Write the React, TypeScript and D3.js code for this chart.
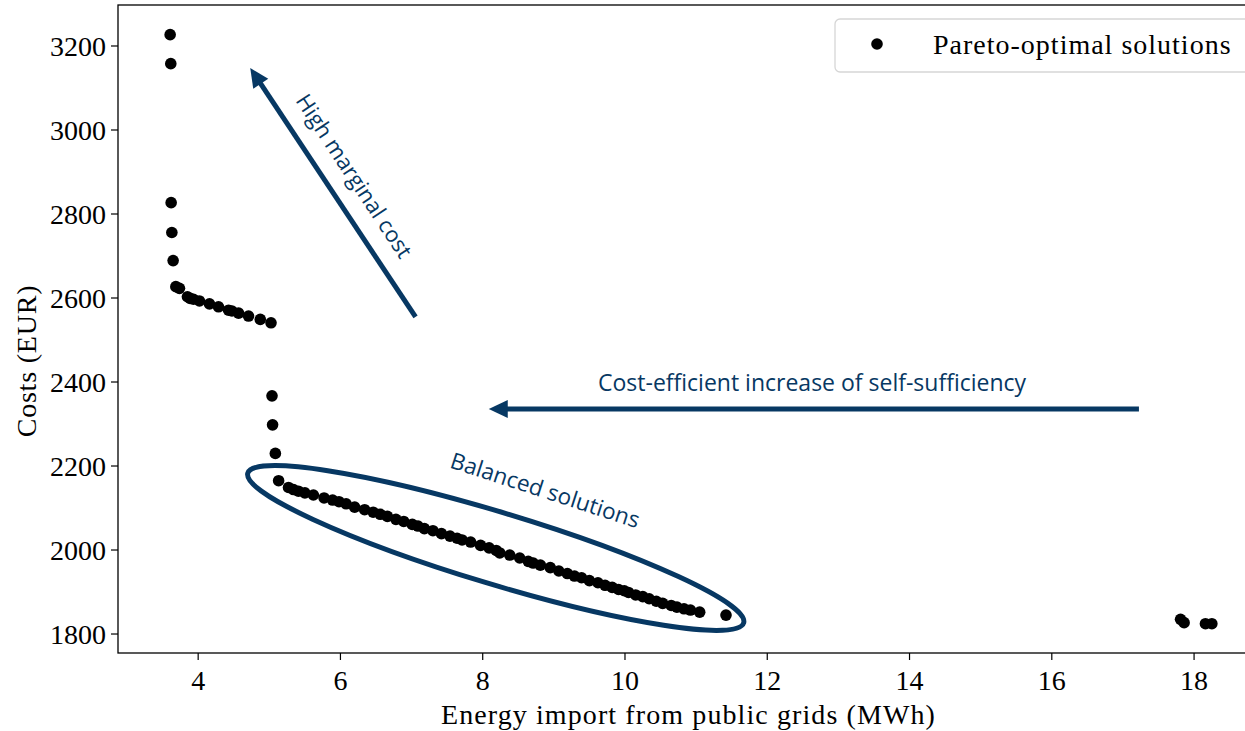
import React from "react"
import { scaleLinear, line } from "d3"

// Pareto front
const energyImport = [
  3.606, 3.615, 3.62, 3.63, 3.648, 3.686, 3.737, 3.849, 3.887, 3.934, 4.018, 4.159, 4.286, 4.427, 4.475, 4.568, 4.708, 4.873, 5.024,
  5.038, 5.046, 5.085, 5.131,
  5.27, 5.34, 5.41, 5.5, 5.62, 5.77, 5.89, 5.98, 6.08, 6.2, 6.34, 6.46, 6.56, 6.66, 6.78, 6.89, 7.01, 7.09, 7.18, 7.3, 7.42, 7.54,
  7.64, 7.71, 7.83, 7.97, 8.09, 8.19, 8.24, 8.38, 8.52, 8.64, 8.71, 8.81, 8.95, 9.07, 9.19, 9.29, 9.39, 9.5, 9.62, 9.72,
  9.82, 9.91, 9.99, 10.05, 10.15, 10.25, 10.34, 10.44, 10.53, 10.65, 10.73, 10.83, 10.92, 11.05, 11.42,
  17.81, 17.86, 18.16, 18.25,
]
const costs = [
  3227, 3158, 2827, 2756, 2689, 2627, 2623, 2603, 2599, 2597, 2593, 2586, 2579, 2571, 2569, 2564, 2557, 2549, 2541,
  2367, 2298, 2230, 2165,
  2149, 2144, 2140, 2136, 2131, 2124, 2119, 2115, 2110, 2102, 2096, 2090, 2085, 2080, 2073, 2068, 2061, 2057, 2051, 2046, 2039, 2033,
  2028, 2024, 2019, 2011, 2005, 1999, 1993, 1988, 1981, 1973, 1969, 1964, 1958, 1950, 1944, 1938, 1934, 1927, 1922, 1916,
  1911, 1906, 1903, 1899, 1893, 1889, 1884, 1878, 1873, 1868, 1864, 1860, 1857, 1852, 1845,
  1835, 1827, 1824.5, 1824.5,
]
const xTicks = [4, 6, 8, 10, 12, 14, 16, 18]
const yTicks = [1800, 2000, 2200, 2400, 2600, 2800, 3000, 3200]

const W = 1245
const H = 731
const margin = { top: 5, right: -1, bottom: 78, left: 118 }
const navy = "#073863"
const serif = "'Liberation Serif', 'DejaVu Serif', serif"
const sans = "'Open Sans', 'Noto Sans', sans-serif"

export default function App() {
  const x = scaleLinear([2.873, 18.73], [margin.left, W - margin.right])
  const y = scaleLinear([1754.8, 3297.6], [H - margin.bottom, margin.top])
  const left = margin.left
  const right = W - margin.right
  const top = margin.top
  const bottom = H - margin.bottom

  // arrow helper in data space
  const arrow = (x0: number, y0: number, x1: number, y1: number) => {
    const ax = x(x0), ay = y(y0), bx = x(x1), by = y(y1)
    const dx = bx - ax, dy = by - ay
    const len = Math.hypot(dx, dy)
    const ux = dx / len, uy = dy / len
    const headLen = 19, headW = 9
    const baseX = bx - ux * headLen, baseY = by - uy * headLen
    const pts: [number, number][] = [
      [bx, by],
      [baseX - uy * headW, baseY + ux * headW],
      [baseX + uy * headW, baseY - ux * headW],
    ]
    return (
      <g>
        <path d={line()([[ax, ay], [baseX + ux * 2, baseY + uy * 2]]) || ""} stroke={navy} strokeWidth={5} fill="none" />
        <polygon points={pts.map(p => p.join(",")).join(" ")} fill={navy} />
      </g>
    )
  }

  return (
    <div style={{ position: "absolute", left: 0, top: 0 }}>
      <svg width={W} height={H} style={{ display: "block", background: "#fff" }}>
        {/* annotations */}
        {arrow(7.056, 2554.8, 4.732, 3147.6)}
        {arrow(17.225, 2335.7, 8.085, 2335.7)}
        <text
          transform={`translate(${x(6.17)},${y(2888)}) rotate(56.5)`}
          fontFamily={sans} fontSize={22} fill={navy} textAnchor="middle" dominantBaseline="middle">
          High marginal cost
        </text>
        <text x={x(12.63)} y={y(2393)} fontFamily={sans} fontSize={23} fill={navy} textAnchor="middle" dominantBaseline="middle">
          Cost-efficient increase of self-sufficiency
        </text>
        <text
          transform={`translate(${x(8.87)},${y(2138)}) rotate(18)`}
          fontFamily={sans} fontSize={22.5} fill={navy} textAnchor="middle" dominantBaseline="middle">
          Balanced solutions
        </text>
        <ellipse
          transform={`translate(${x(8.183)},${y(2004.8)}) rotate(16.8)`}
          rx={259} ry={36} fill="none" stroke={navy} strokeWidth={5} />

        {/* points */}
        {energyImport.map((v, i) => (
          <circle key={i} cx={x(v)} cy={y(costs[i])} r={5.8} fill="#000" />
        ))}

        {/* frame */}
        <rect x={left} y={top} width={right - left} height={bottom - top} fill="none" stroke="#000" strokeWidth={1.3} />

        {/* x axis */}
        {xTicks.map(t => (
          <g key={t} transform={`translate(${x(t)},${bottom})`}>
            <line y2={7} stroke="#000" strokeWidth={1.2} />
            <text y={37} textAnchor="middle" fontFamily={serif} fontSize={28}>{t}</text>
          </g>
        ))}
        <text x={(left + 1245) / 2 + 7} y={724} textAnchor="middle" fontFamily={serif} fontSize={28} letterSpacing={1.1}>
          Energy import from public grids (MWh)
        </text>

        {/* y axis */}
        {yTicks.map(t => (
          <g key={t} transform={`translate(${left},${y(t)})`}>
            <line x2={-7} stroke="#000" strokeWidth={1.2} />
            <text x={-12} dy="0.35em" textAnchor="end" fontFamily={serif} fontSize={28}>{t}</text>
          </g>
        ))}
        <text transform={`translate(36,${y(2450)}) rotate(-90)`} textAnchor="middle" fontFamily={serif} fontSize={28} letterSpacing={0.8}>
          Costs (EUR)
        </text>

        {/* legend */}
        <rect x={835} y={19} width={420} height={53} rx={5} fill="#fff" fillOpacity={0.8} stroke="#d6d6d6" strokeWidth={1.3} />
        <circle cx={877} cy={44} r={5.8} fill="#000" />
        <text x={933} y={54} fontFamily={serif} fontSize={28} letterSpacing={1}>Pareto-optimal solutions</text>
      </svg>
    </div>
  )
}
